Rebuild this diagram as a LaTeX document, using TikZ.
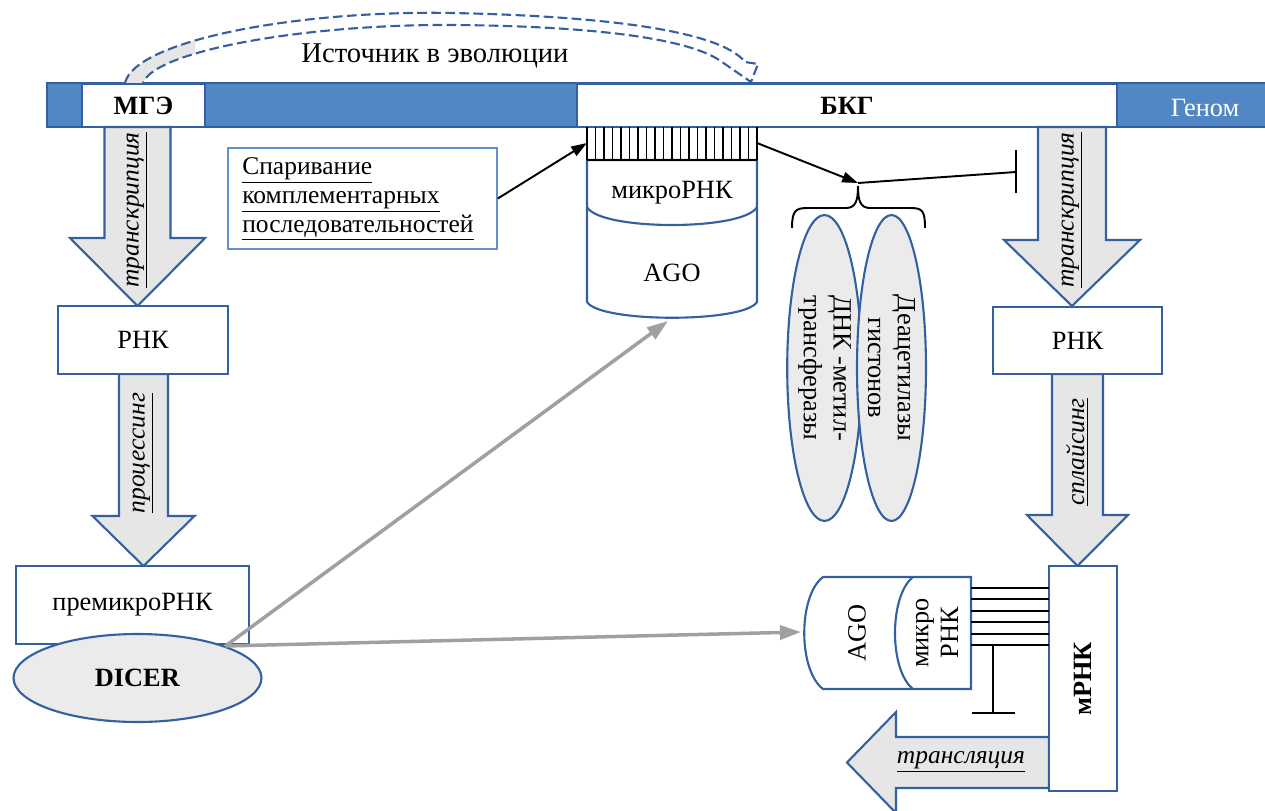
\documentclass[tikz,border=0pt]{standalone}
\usepackage{fontspec}
\setmainfont{Liberation Serif}
\usetikzlibrary{arrows.meta,shapes.geometric}
\definecolor{bl}{RGB}{52,96,160}
\definecolor{genfill}{RGB}{82,135,198}
\definecolor{lgray}{RGB}{230,230,230}
\definecolor{egray}{RGB}{235,235,235}
\definecolor{agray}{RGB}{160,160,160}
\definecolor{lbl}{RGB}{100,145,205}
\tikzset{
  every node/.style={font=\fontsize{15}{17}\selectfont},
  box/.style={draw=bl, line width=1.2pt, fill=white, rectangle, inner sep=0pt},
  blockarrow/.style={draw=bl, line width=1.2pt, fill=lgray, line join=miter},
  blk/.style={draw=black, line width=1.1pt},
  tipblk/.style={-{Triangle[length=9pt,width=6pt]}},
  grayarrow/.style={draw=agray, line width=2pt, -{Triangle[length=12pt,width=8pt]}},
  cyl/.style={draw=bl, line width=1.2pt, fill=white},
  enz/.style={ellipse, draw=bl, line width=1.2pt, fill=egray, inner sep=0pt, rotate=-90, align=center},
  alab/.style={font=\fontsize{14.5}{16.5}\selectfont\itshape, inner sep=0pt},
}
\newcommand\bdown[6]{% xc, half shaft, ytop, ywing, half head, ytip
  \filldraw[blockarrow] (#1-#2,#3) -- (#1-#2,#4) -- (#1-#5,#4) -- (#1,#6) -- (#1+#5,#4) -- (#1+#2,#4) -- (#1+#2,#3) -- cycle;}
\begin{document}
\begin{tikzpicture}[x=0.02cm, y=-0.02cm]
\useasboundingbox (0,0) rectangle (1265,811);
\fill[white] (0,0) rectangle (1265,811);

% genome bar
\node[draw=bl, fill=genfill, line width=1.2pt, minimum width=24.4cm, minimum height=0.88cm, inner sep=0pt] (genome) at (657,105) {};
\node[text=white, inner sep=0pt] (genlab) at (1205,108) {Геном};
\node[box, minimum width=2.46cm, minimum height=0.86cm] (mge) at (143.5,105.5) {\textbf{МГЭ}};
\node[box, minimum width=10.8cm, minimum height=0.86cm] (bkg) at (847,105.5) {\textbf{БКГ}};

% curved dashed arrow
\begin{scope}
  \clip (100,0) rectangle (195,83);
  \fill[lgray] (125,83) .. controls (135,40) and (300,10) .. (452,13) .. controls (600,16) and (720,30) .. (745,62) -- (758,64) -- (751,82) -- (722,62) .. controls (690,38) and (590,26) .. (452,25) .. controls (310,24) and (155,50) .. (143,83) -- cycle;
\end{scope}
\draw[bl, line width=1.2pt, dashed, dash pattern=on 5.5pt off 2.5pt] (125,83) .. controls (135,40) and (300,10) .. (452,13) .. controls (600,16) and (720,30) .. (745,62) -- (758,64) -- (751,82) -- (722,62) .. controls (690,38) and (590,26) .. (452,25) .. controls (310,24) and (155,50) .. (143,83);
\node[inner sep=0pt, font=\fontsize{16.3}{18}\selectfont] (evo) at (435,56) {Источник в эволюции};

% block arrows
\bdown{137.5}{33}{127}{238}{67.5}{306}
\bdown{143.5}{24.5}{374}{516}{51}{566}
\bdown{1072}{34}{127}{240}{68}{306}
\bdown{1077.5}{25.5}{374}{515}{50.5}{566}
\filldraw[blockarrow] (1049,737) -- (896,737) -- (896,712) -- (847,762.5) -- (896,813) -- (896,788) -- (1049,788) -- cycle;

\node[alab, rotate=90] (t1) at (137,210) {\underline{транскрипция}};
\node[alab, rotate=90] (t2) at (1072,210) {\underline{транскрипция}};
\node[alab, rotate=90] (pr) at (143,453) {\underline{процессинг}};
\node[alab, rotate=90] (sp) at (1077,452) {\underline{сплайсинг}};
\node[alab] (tr) at (961,762) {\underline{трансляция}};

% left column boxes
\node[box, minimum width=3.4cm, minimum height=1.36cm] (rna1) at (143,340) {РНК};
\node[box, minimum width=4.66cm, minimum height=1.56cm] (premi) at (132.5,605) {премикроРНК};
\node[ellipse, draw=bl, line width=1.2pt, fill=egray, minimum width=4.96cm, minimum height=1.76cm, inner sep=0pt] (dicer) at (137.5,678) {\textbf{DICER}};

% right column boxes
\node[box, minimum width=3.38cm, minimum height=1.34cm] (rna2) at (1077.5,340.5) {РНК};
\node[box, minimum width=1.36cm, minimum height=4.5cm] (mrna) at (1083,678.5) {};
\node[rotate=90, inner sep=0pt] (mrnalab) at (1083,679) {\textbf{мРНК}};

% pairing box
\node[draw=lbl, line width=1pt, fill=white, minimum width=5.38cm, minimum height=2.02cm, inner sep=0pt] (pair) at (362.5,198.5) {};
\node[anchor=west, align=left, inner sep=0pt, font=\fontsize{14.5}{16.5}\selectfont] (pairlab) at (242,199) {\underline{Спаривание}\\\underline{комплементарных}\\\underline{последовательностей}};

% middle cylinder (микроРНК / AGO)
\filldraw[cyl] (587,160) -- (587,302) .. controls (600,323) and (744,323) .. (757,302) -- (757,160) -- cycle;
\draw[bl, line width=1.2pt] (587,207) .. controls (600,231) and (744,231) .. (757,207);
\node[inner sep=0pt] (mir1) at (672,193) {микроРНК};
\node[inner sep=0pt] (ago1) at (672,273) {AGO};
\foreach \i in {0,...,20} \draw[blk] (587+\i*8.5,127) -- (587+\i*8.5,160);
\draw[blk] (587,160) -- (757,160);
\coordinate (combL) at (587,143);
\coordinate (combR) at (757,143);
\coordinate (agoBottom) at (668,321);

% brace and enzymes
\coordinate (brtip) at (858,183);
\draw[blk] (792,228) .. controls (792,210) and (796,208) .. (808,208) -- (846,208) .. controls (856,208) and (858,200) .. (858,186) .. controls (858,200) and (860,208) .. (870,208) -- (910,208) .. controls (922,208) and (925,210) .. (925,228);
\node[enz, minimum width=6.12cm, minimum height=1.3cm] (e1) at (824.5,368) {ДНК -метил-\\трансферазы};
\node[enz, minimum width=6.12cm, minimum height=1.38cm] (e2) at (891.5,368) {Деацетилазы\\гистонов};

\draw[blk, tipblk] (pair.east) -- (combL);
\draw[blk, tipblk] (combR) -- (brtip);
\coordinate (tbar) at (1016,172);
\draw[blk] (brtip) -- (tbar);
\draw[blk] (1016,150) -- (1016,193);

% bottom cylinder
\filldraw[cyl] (823,577) -- (971,577) -- (971,689) -- (823,689) .. controls (798,670) and (798,596) .. (823,577) -- cycle;
\draw[bl, line width=1.2pt] (913,577) .. controls (889,596) and (889,670) .. (913,689);
\node[rotate=90, inner sep=0pt] (ago2) at (857,633) {AGO};
\node[rotate=90, align=center, inner sep=0pt] (mir2) at (937,633) {микро\\РНК};
\coordinate (agoLeft) at (801,632);
\foreach \i in {0,...,5} \draw[blk] (971,588+\i*11.4) -- (1049,588+\i*11.4);
\coordinate (tb2) at (993,645.5);
\coordinate (tb2end) at (993,713);
\draw[blk] (tb2) -- (tb2end);
\draw[blk] (972,713) -- (1015,713);

% gray arrows from DICER
\draw[grayarrow] (dicer.20) -- (agoBottom);
\draw[grayarrow] (dicer.20) -- (agoLeft);
\end{tikzpicture}
\end{document}
